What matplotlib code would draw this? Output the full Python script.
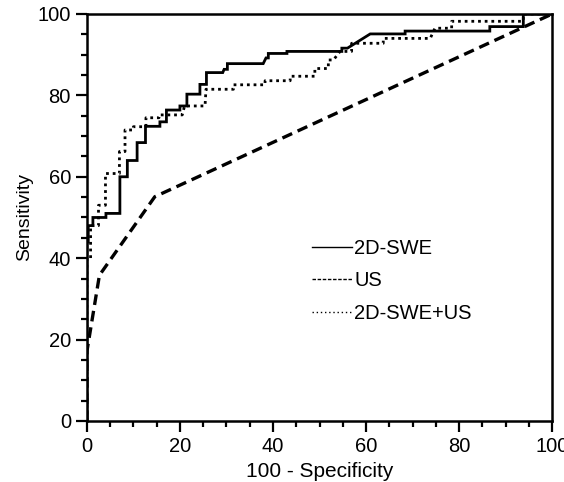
import numpy as np
import matplotlib
matplotlib.use("Agg")
import matplotlib.pyplot as plt
from matplotlib.lines import Line2D
from matplotlib.ticker import MultipleLocator

plt.rcParams['font.family'] = ['Liberation Sans', 'DejaVu Sans']

# ROC curves (100 - specificity, sensitivity)
swe_x = [0, 0, 0.3, 0.3, 1.3, 1.3, 4.1, 4.1, 7.1, 7.1, 8.7, 8.7, 10.8, 10.8, 12.6, 12.6,
         15.7, 15.7, 17.1, 17.1, 20.0, 20.0, 21.5, 21.5, 24.3, 24.3, 25.7, 25.7, 29.2, 29.5,
         30.2, 30.2, 37.9, 38.5, 39.0, 39.0, 43.0, 43.0, 54.8, 54.8, 56.0, 60.9, 68.4, 68.4,
         86.6, 86.6, 93.8, 93.8, 100]
swe_y = [0, 44, 44, 48, 48, 50, 50, 51, 51, 60, 60, 64, 64, 68.4, 68.4, 72.4,
         72.4, 73.5, 73.5, 76.4, 76.4, 77.4, 77.4, 80.3, 80.3, 82.7, 82.7, 85.6, 85.6, 86.4,
         86.4, 87.8, 87.8, 89.2, 89.2, 90.3, 90.3, 90.8, 90.8, 91.6, 91.6, 95.1, 95.1, 95.8,
         95.8, 96.9, 96.9, 100, 100]

us_x = [0, 0, 2.7, 14.6, 100]
us_y = [0, 17, 35.8, 55.1, 100]

comb_x = [0, 0, 0.8, 0.8, 2.5, 2.5, 4.0, 4.0, 7.0, 7.0, 8.2, 8.2, 10.0, 10.0, 12.7, 12.7,
          15.5, 15.5, 20.5, 21.0, 25.4, 25.6, 31.5, 31.5, 38.3, 38.3, 43.7, 43.7, 49.0, 49.0,
          51.9, 51.9, 53.0, 54.4, 56.9, 56.9, 63.7, 63.7, 73.8, 74.8, 78.4, 78.4, 93.8, 93.8, 100]
comb_y = [0, 40, 40, 48, 48, 53, 53, 60.8, 60.8, 66.2, 66.2, 71.5, 71.5, 72.3, 72.3, 74.5,
          74.5, 75.2, 75.2, 77.4, 77.4, 81.5, 81.5, 82.6, 82.6, 83.6, 83.6, 84.7, 84.7, 86.6,
          86.6, 88.7, 88.7, 90.8, 90.8, 92.8, 92.8, 94.0, 94.0, 96.5, 96.5, 98.2, 98.2, 100, 100]

labels = ["2D-SWE", "US", "2D-SWE+US"]
ticks = [0, 20, 40, 60, 80, 100]

fig = plt.figure(figsize=(5.64, 4.82), dpi=100)
ax = fig.add_axes([0.154, 0.1266, 0.825, 0.8444])

ax.plot(swe_x, swe_y, color='black', lw=2.0, ls='-', solid_joinstyle='miter')
ax.plot(us_x, us_y, color='black', lw=2.4, ls=(0, (3.2, 1.8)))
ax.plot(comb_x, comb_y, color='black', lw=2.0, ls=(0, (1, 1.4)))

ax.set_xlim(0, 100)
ax.set_ylim(0, 100)
ax.set_xticks(ticks)
ax.set_yticks(ticks)
ax.xaxis.set_minor_locator(MultipleLocator(5))
ax.yaxis.set_minor_locator(MultipleLocator(5))
ax.tick_params(which='major', direction='out', length=8, width=1.6, labelsize=14.5, pad=3.5)
ax.tick_params(which='minor', direction='out', length=4.5, width=1.6)
for s in ax.spines.values():
    s.set_linewidth(1.8)

ax.set_xlabel("100 - Specificity", fontsize=15, labelpad=4)
ax.set_ylabel("Sensitivity", fontsize=14, labelpad=3)

handles = [Line2D([], [], color='black', lw=1.0, ls='-'),
           Line2D([], [], color='black', lw=1.0, ls=(0, (2.5, 1.2))),
           Line2D([], [], color='black', lw=1.0, ls=(0, (1, 2)))]
ax.legend(handles, labels, loc='center left', bbox_to_anchor=(0.484, 0.344),
          frameon=False, fontsize=14.5, handlelength=2.0, handletextpad=0.1,
          labelspacing=0.65, borderpad=0, borderaxespad=0)

fig.savefig("out.png", dpi=100)
